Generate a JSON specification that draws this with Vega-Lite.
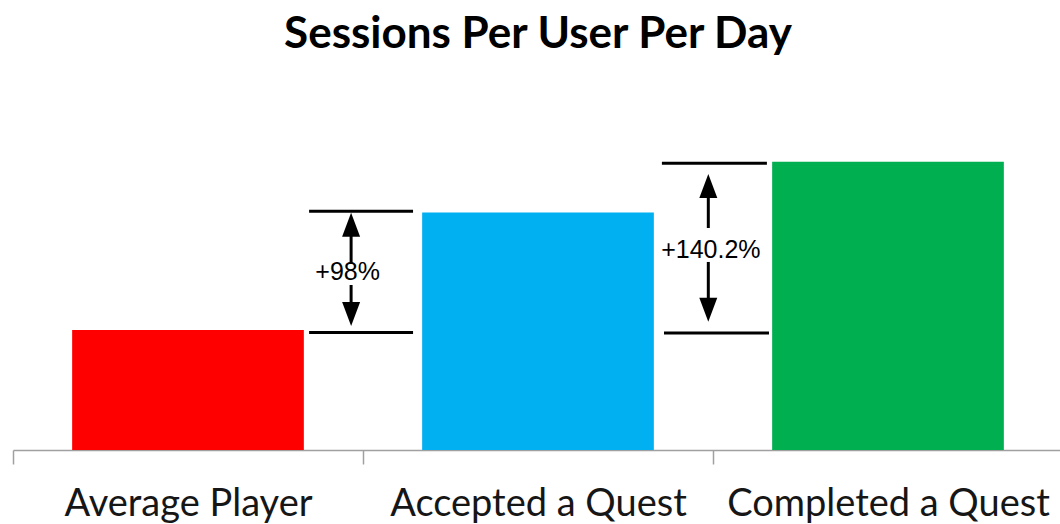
{
  "$schema": "https://vega.github.io/schema/vega-lite/v6.json",
  "width": 1050,
  "height": 370,
  "autosize": {"type": "none"},
  "padding": {"left": 13, "top": 80, "right": 0, "bottom": 74},
  "background": "white",
  "title": {"text": "Sessions Per User Per Day", "font": "Lato", "fontSize": 44, "fontWeight": "bold", "color": "#000000", "offset": 23, "anchor": "middle"},
  "config": {"view": {"stroke": null}},
  "datasets": {
    "bars": [
      {"cat": "Average Player", "value": 1.0},
      {"cat": "Accepted a Quest", "value": 1.98},
      {"cat": "Completed a Quest", "value": 2.402}
    ],
    "hrules": [
      {"x1": 0.846, "x2": 1.143, "y": 1.99},
      {"x1": 0.846, "x2": 1.143, "y": 0.98},
      {"x1": 1.854, "x2": 2.154, "y": 2.39},
      {"x1": 1.86, "x2": 2.16, "y": 0.975}
    ],
    "shafts": [
      {"x": 0.966, "y1": 1.8775, "y2": 1.55},
      {"x": 0.966, "y1": 1.375, "y2": 1.133},
      {"x": 1.9866, "y1": 2.2, "y2": 1.85},
      {"x": 1.9866, "y1": 1.567, "y2": 1.169}
    ],
    "heads": [
      {"x": 0.966, "y": 1.8775, "dir": "up"},
      {"x": 0.966, "y": 1.133, "dir": "down"},
      {"x": 1.9866, "y": 2.2, "dir": "up"},
      {"x": 1.9866, "y": 1.169, "dir": "down"}
    ],
    "labels": [
      {"x": 0.956, "y": 1.483, "text": "+98%"},
      {"x": 1.994, "y": 1.667, "text": "+140.2%"}
    ]
  },
  "layer": [
    {
      "data": {"name": "bars"},
      "mark": {"type": "bar", "width": {"band": 0.662}},
      "encoding": {
        "x": {"field": "cat", "type": "nominal", "sort": null, "title": null,
              "scale": {"paddingInner": 0, "paddingOuter": 0},
              "axis": {"labelAngle": 0, "labelFont": "Lato", "labelFontSize": 38, "labelColor": "#161616",
                       "domainColor": "#A0A0A0", "domainWidth": 1.5, "tickColor": "#A0A0A0", "tickWidth": 1.5,
                       "tickSize": 14, "tickBand": "extent", "labelPadding": 21, "labelLimit": 0}},
        "y": {"field": "value", "type": "quantitative", "scale": {"domain": [0, 3.0833], "nice": false}, "axis": null},
        "color": {"field": "cat", "type": "nominal", "sort": null, "legend": null,
                  "scale": {"domain": ["Average Player", "Accepted a Quest", "Completed a Quest"], "range": ["#FF0000", "#00B0F0", "#00B050"]}}
      }
    },
    {
      "data": {"name": "hrules"},
      "mark": {"type": "rule", "color": "#000000", "strokeWidth": 3},
      "encoding": {
        "x": {"field": "x1", "type": "quantitative", "scale": {"domain": [0, 3], "nice": false, "zero": false}, "axis": null},
        "x2": {"field": "x2"},
        "y": {"field": "y", "type": "quantitative"}
      }
    },
    {
      "data": {"name": "shafts"},
      "mark": {"type": "rule", "color": "#000000", "strokeWidth": 3},
      "encoding": {
        "x": {"field": "x", "type": "quantitative", "scale": {"domain": [0, 3], "nice": false, "zero": false}, "axis": null},
        "y": {"field": "y1", "type": "quantitative"},
        "y2": {"field": "y2"}
      }
    },
    {
      "data": {"name": "heads"},
      "mark": {"type": "point", "filled": true, "color": "#000000", "opacity": 1, "size": 576},
      "encoding": {
        "x": {"field": "x", "type": "quantitative", "scale": {"domain": [0, 3], "nice": false, "zero": false}, "axis": null},
        "y": {"field": "y", "type": "quantitative"},
        "shape": {"field": "dir", "type": "nominal", "legend": null,
                  "scale": {"domain": ["up", "down"], "range": ["M0,-1L0.75,1L-0.75,1Z", "M0,1L0.75,-1L-0.75,-1Z"]}}
      }
    },
    {
      "data": {"name": "labels"},
      "mark": {"type": "text", "font": "Liberation Sans", "fontSize": 25, "color": "#000000", "baseline": "middle", "align": "center"},
      "encoding": {
        "x": {"field": "x", "type": "quantitative", "scale": {"domain": [0, 3], "nice": false, "zero": false}, "axis": null},
        "y": {"field": "y", "type": "quantitative"},
        "text": {"field": "text"}
      }
    }
  ],
  "resolve": {"scale": {"x": "independent"}}
}
